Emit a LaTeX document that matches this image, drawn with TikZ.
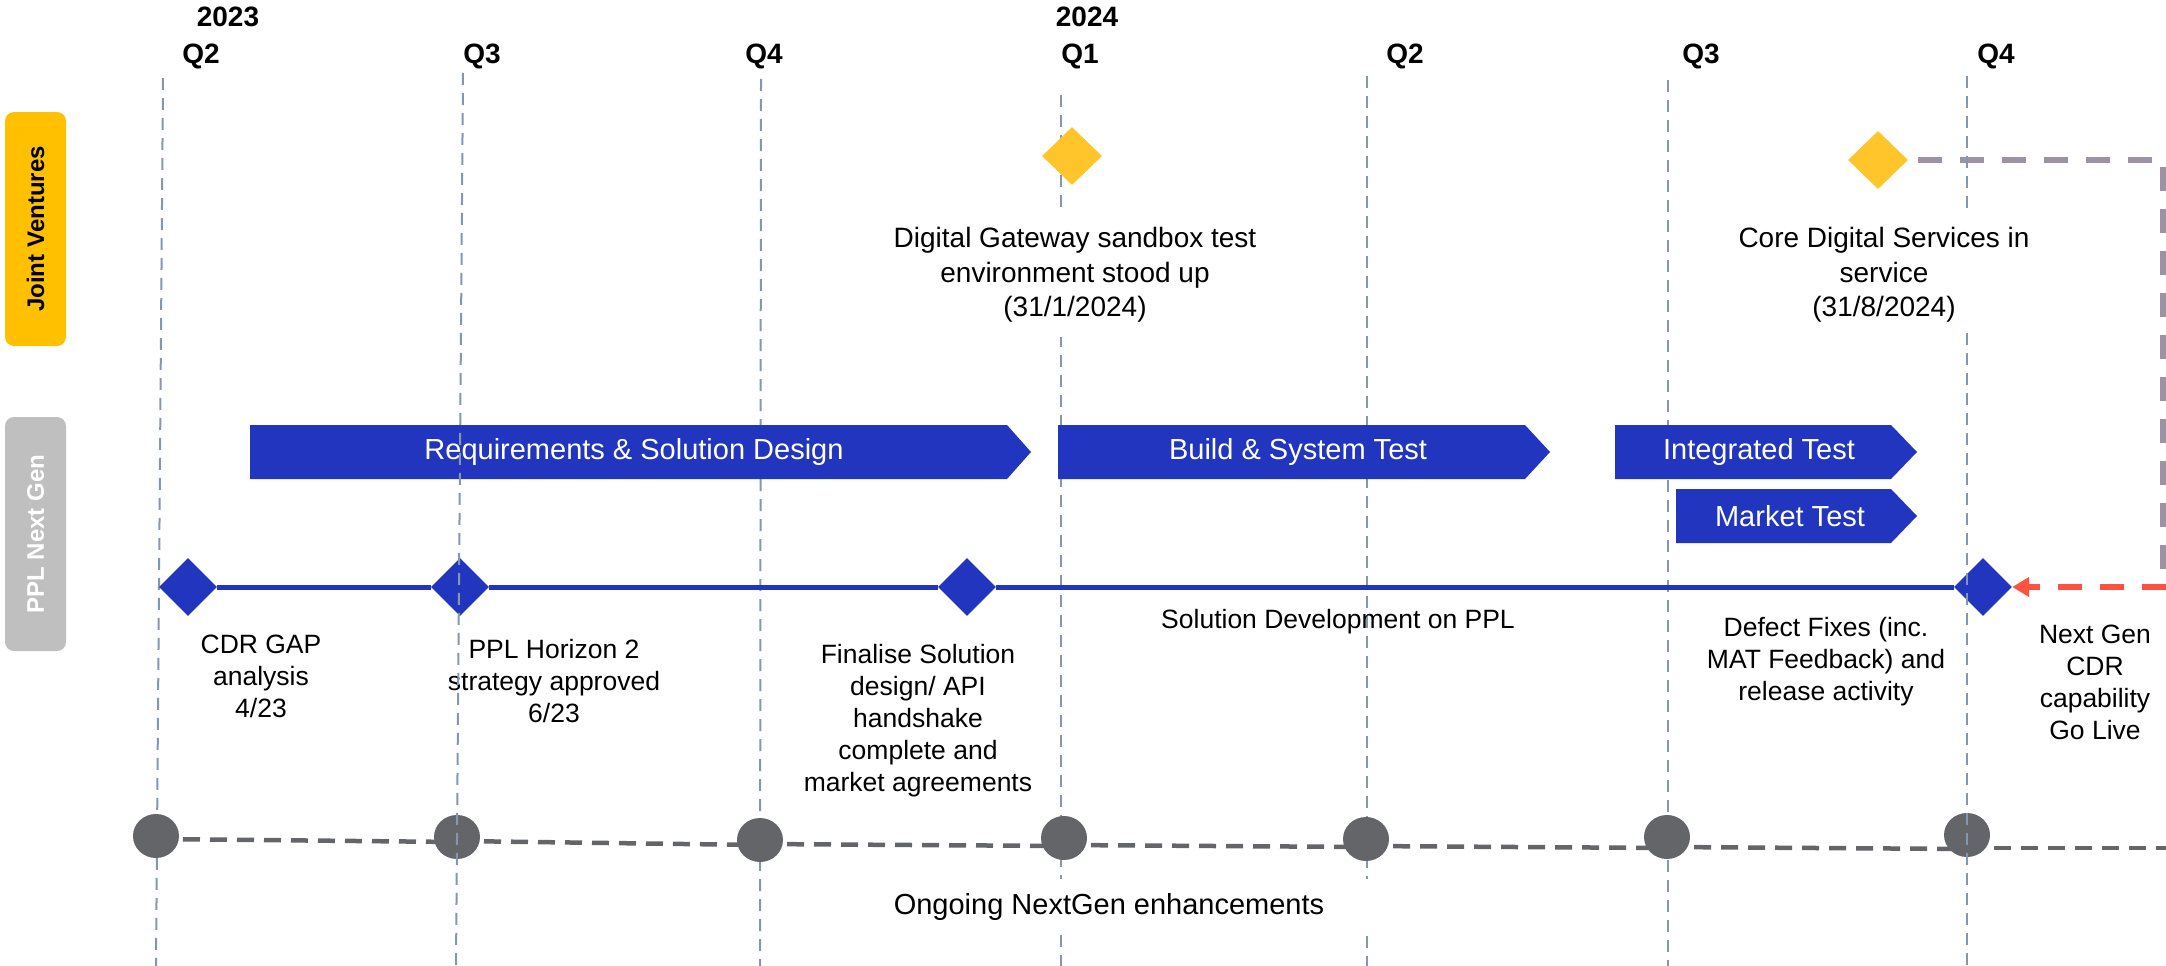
\documentclass[tikz,border=0pt]{standalone}
\usepackage{fontspec}
\setmainfont{Liberation Sans}
\usetikzlibrary{shapes.geometric, arrows.meta}

\definecolor{barblue}{HTML}{2135BF}
\definecolor{jvyellow}{HTML}{FFC52A}
\definecolor{lanegold}{HTML}{FFC000}
\definecolor{lanegray}{HTML}{BFBFBF}
\definecolor{gridblue}{HTML}{8497B0}
\definecolor{dotgray}{HTML}{636569}
\definecolor{linkpurple}{HTML}{9D91A4}
\definecolor{linkred}{HTML}{FF5040}

\begin{document}
\begin{tikzpicture}[x=1pt, y=-1pt,
  grid/.style={draw=gridblue, line width=2pt, dash pattern=on 12pt off 8pt},
  qlabel/.style={font=\bfseries\fontsize{28}{32}\selectfont, inner sep=0pt},
  lane/.style={rotate=90, rounded corners=9pt, minimum width=234pt,
    minimum height=61pt, inner sep=0pt, font=\bfseries\fontsize{24}{28}\selectfont},
  bar/.style={fill=barblue},
  bartext/.style={text=white, font=\fontsize{29}{34}\selectfont, inner sep=0pt},
  mtext/.style={align=center, font=\fontsize{26.5}{32}\selectfont, inner sep=0pt},
  jvtext/.style={align=center, font=\fontsize{28}{34.5}\selectfont, fill=white,
    minimum height=124pt, inner xsep=6pt, inner ysep=0pt},
  bdiam/.style={diamond, fill=barblue, minimum width=58pt, minimum height=58pt, inner sep=0pt},
  ydiam/.style={diamond, fill=jvyellow, minimum width=60pt, minimum height=58pt, inner sep=0pt},
  dot/.style={ellipse, fill=dotgray, minimum width=46pt, minimum height=44pt, inner sep=0pt},
  timeline/.style={draw=barblue, line width=5pt},
  dotlink/.style={draw=dotgray, line width=4.5pt, dash pattern=on 17pt off 10pt},
  purplelink/.style={draw=linkpurple, line width=6pt, dash pattern=on 24pt off 18pt},
  redlink/.style={draw=linkred, line width=6pt, dash pattern=on 24pt off 18pt}
]
\useasboundingbox (0,0) rectangle (2166,966);

% quarter grid lines (two of them are redrawn on top further down)
\draw[grid] (761,79) -- (760,966);
\draw[grid] (1061,95) -- (1061,966);
\draw[grid] (1367,76) -- (1367,966);
\draw[grid] (1668,80) -- (1668,966);
\draw[grid] (163,78) -- (156,966);

% year and quarter headings
\node[qlabel] (y23) at (228,17) {2023};
\node[qlabel] (y24) at (1087,17) {2024};
\node[qlabel] (q23b) at (201,56) {Q2};
\node[qlabel] (q23c) at (482,56) {Q3};
\node[qlabel] (q23d) at (764,56) {Q4};
\node[qlabel] (q24a) at (1080,56) {Q1};
\node[qlabel] (q24b) at (1405,56) {Q2};
\node[qlabel] (q24c) at (1701,56) {Q3};
\node[qlabel] (q24d) at (1996,56) {Q4};

% swimlane labels
\node[lane, fill=lanegold, text=black] (jvlane) at (35.5,229) {Joint Ventures};
\node[lane, fill=lanegray, text=white] (ppllane) at (35.5,534) {PPL Next Gen};

% Joint Ventures milestones
\node[jvtext] (jvone) at (1075,275) {Digital Gateway sandbox test\\environment stood up\\(31/1/2024)};
\node[jvtext] (jvtwo) at (1884,275) {Core Digital Services in\\service\\(31/8/2024)};
\node[ydiam] (ya) at (1072,156) {};
\node[ydiam] (yb) at (1878,160) {};

% phase bars
\fill[bar] (250,425) -- (1007,425) -- (1031,452) -- (1007,479) -- (250,479) -- cycle;
\node[bartext] (req) at (634,452) {Requirements \& Solution Design};
\fill[bar] (1058,425) -- (1525,425) -- (1550,452) -- (1525,479) -- (1058,479) -- cycle;
\node[bartext] (build) at (1298,452) {Build \& System Test};
\fill[bar] (1615,425) -- (1891,425) -- (1917,452) -- (1891,479) -- (1615,479) -- cycle;
\node[bartext] (integ) at (1759,452) {Integrated Test};
\fill[bar] (1676,489) -- (1891,489) -- (1917,516) -- (1891,543) -- (1676,543) -- cycle;
\node[bartext] (mkt) at (1790,516) {Market Test};

% PPL Next Gen milestones
\node[bdiam] (da) at (188,587) {};
\node[bdiam] (db) at (460,587) {};
\node[bdiam] (dc) at (967,587) {};
\node[bdiam] (dd) at (1983,587) {};
\draw[timeline] (da) -- (db);
\draw[timeline] (db) -- (dc);
\draw[timeline] (dc) -- (dd);

\node[mtext] (ma) at (261,676) {CDR GAP\\analysis\\4/23};
\node[mtext] (mb) at (554,681) {PPL Horizon 2\\strategy approved\\6/23};
\node[mtext] (mc) at (918,721) {Finalise Solution\\design/ API\\handshake\\complete and\\market agreements};
\node[mtext] (md) at (1338,622) {Solution Development on PPL};
\node[mtext] (me) at (1826,662) {Defect Fixes (inc.\\MAT Feedback) and\\release activity};
\node[mtext] (mf) at (2095,682) {Next Gen\\CDR\\capability\\Go Live};

% dependency from core services to go live
\coordinate (pturn) at (2163,575);
\coordinate (redin) at (2166,587);
\draw[purplelink, shorten <=10pt] (yb.east) -| (pturn);
\draw[redlink, -{Triangle[length=17pt,width=19pt]}] (redin) -- (dd);

% ongoing enhancements track
\node[font=\fontsize{29}{34}\selectfont, fill=white, minimum width=550pt,
  minimum height=56pt, inner sep=0pt] (ongo) at (1109,907) {Ongoing NextGen enhancements};
\coordinate (dotend) at (2166,848);
\draw[dotlink] ([yshift=-3pt]156,836) -- ([yshift=-4pt]457,838);
\draw[dotlink] ([yshift=-3pt]457,838) -- ([yshift=-4pt]760,841);
\draw[dotlink] ([yshift=-3pt]760,841) -- ([yshift=-4pt]1064,842);
\draw[dotlink] ([yshift=-3pt]1064,842) -- ([yshift=-4pt]1366,843);
\draw[dotlink] ([yshift=-3pt]1366,843) -- ([yshift=-4pt]1667,844);
\draw[dotlink] ([yshift=-3pt]1667,844) -- ([yshift=-4pt]1967,845);
\draw[dotlink] ([yshift=-3pt]1967,845) -- (dotend);
\node[dot] (ca) at (156,836) {};
\node[dot] (cb) at (457,837) {};
\node[dot] (cc) at (760,840) {};
\node[dot] (cd) at (1064,838) {};
\node[dot] (ce) at (1366,839) {};
\node[dot] (cf) at (1667,837) {};
\node[dot] (cg) at (1967,835) {};

% grid lines that sit above the shapes
\draw[grid] (463,73) -- (456,966);
\draw[grid] (1967,76) -- (1967,208);
\draw[grid] (1967,333) -- (1967,966);
\end{tikzpicture}
\end{document}
